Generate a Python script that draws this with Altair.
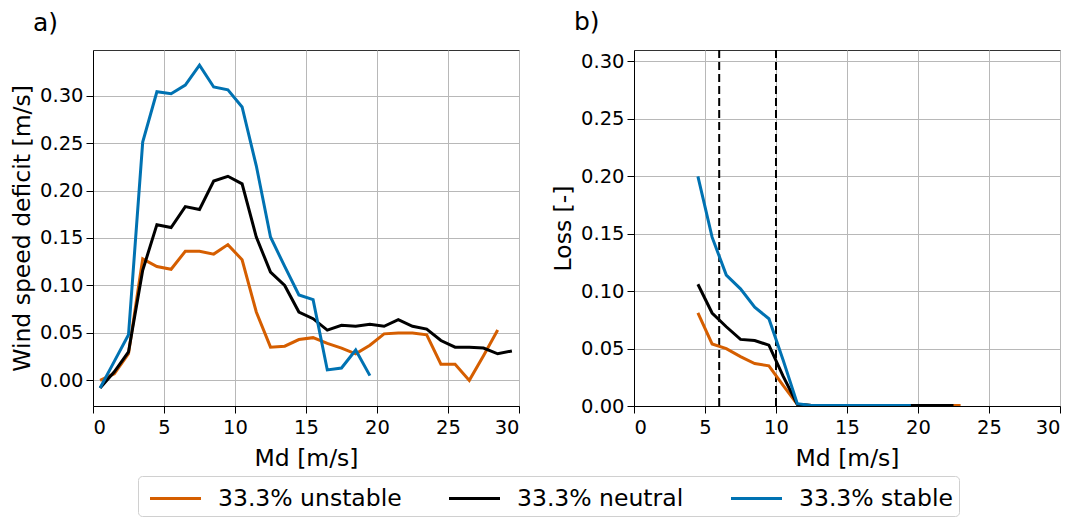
import altair as alt
import pandas as pd

# ---------------- data ----------------
labels = ["33.3% unstable", "33.3% neutral", "33.3% stable"]
colors = ["#D55E00", "#000000", "#0072B2"]

# panel a) wind speed deficit
x_a = [0.5, 1.5, 2.5, 3.5, 4.5, 5.5, 6.5, 7.5, 8.5, 9.5,
       10.5, 11.5, 12.5, 13.5, 14.5, 15.5, 16.5, 17.5, 18.5, 19.5,
       20.5, 21.5, 22.5, 23.5, 24.5, 25.5, 26.5, 27.5, 28.5, 29.5]
unstable_a = [0.000, 0.007, 0.028, 0.128, 0.120, 0.117, 0.136, 0.136, 0.133, 0.143,
              0.127, 0.072, 0.035, 0.036, 0.043, 0.045, 0.039, 0.034, 0.028, 0.037,
              0.049, 0.050, 0.050, 0.048, 0.017, 0.017, 0.000, 0.026, 0.053]
neutral_a = [-0.008, 0.009, 0.030, 0.116, 0.164, 0.161, 0.183, 0.180, 0.210, 0.215,
             0.207, 0.151, 0.114, 0.100, 0.072, 0.065, 0.053, 0.058, 0.057, 0.059,
             0.057, 0.064, 0.057, 0.054, 0.042, 0.035, 0.035, 0.034, 0.028, 0.031]
stable_a = [-0.008, 0.020, 0.048, 0.251, 0.304, 0.302, 0.311, 0.332, 0.309, 0.306,
            0.288, 0.226, 0.151, 0.120, 0.090, 0.085, 0.011, 0.013, 0.032, 0.005]

# panel b) loss
x_b = [4.5, 5.5, 6.5, 7.5, 8.5, 9.5, 10.5, 11.5, 12.5, 13.5,
       14.5, 15.5, 16.5, 17.5, 18.5, 19.5, 20.5, 21.5, 22.5, 23.0]
unstable_b = [0.081, 0.054, 0.050, 0.043, 0.037, 0.035, 0.018, 0.0015, 0.0005, 0.0005,
              0.0005, 0.0005, 0.0005, 0.0005, 0.0005, 0.0005, 0.0005, 0.0005, 0.0005, 0.0005]
neutral_b = [0.106, 0.081, 0.069, 0.058, 0.057, 0.053, 0.026, 0.0015, 0.0005, 0.0005,
             0.0005, 0.0005, 0.0005, 0.0005, 0.0005, 0.0005, 0.0005, 0.0005, 0.0005]
stable_b = [0.200, 0.147, 0.114, 0.102, 0.086, 0.076, 0.040, 0.002, 0.0005, 0.0005,
            0.0005, 0.0005, 0.0005, 0.0005, 0.0005, 0.0005]
vlines_b = [6, 10]

x_ticks = [0, 5, 10, 15, 20, 25, 30]
y_ticks = [0.0, 0.05, 0.10, 0.15, 0.20, 0.25, 0.30]

FONT = "DejaVu Sans"
color_scale = alt.Scale(domain=labels, range=colors)


def frame(xs, ys, name):
    n = len(ys)
    return pd.DataFrame({"x": xs[:n], "y": ys, "series": [name] * n})


def panel(series_data, ytitle, ydomain, title, rules=None):
    layers = []
    for df in series_data:
        layers.append(
            alt.Chart(df).mark_line(strokeWidth=3, clip=True).encode(
                x=alt.X("x:Q", scale=alt.Scale(domain=[0, 30], nice=False),
                        axis=alt.Axis(values=x_ticks, format="d"),
                        title="Md [m/s]"),
                y=alt.Y("y:Q", scale=alt.Scale(domain=ydomain, nice=False, zero=False),
                        axis=alt.Axis(values=y_ticks, format=".2f"),
                        title=ytitle),
                color=alt.Color("series:N", scale=color_scale,
                                legend=alt.Legend(title=None)),
            )
        )
    if rules is not None:
        layers.insert(0, alt.Chart(pd.DataFrame({"v": rules})).mark_rule(
            color="black", strokeWidth=2, strokeDash=[8, 4]).encode(x="v:Q"))
    return alt.layer(*layers).properties(
        width=426, height=356,
        title=alt.TitleParams(title, anchor="start", frame="group", dx=-60,
                              fontSize=25, font=FONT, fontWeight="normal",
                              color="black", offset=14),
    )


left = panel([frame(x_a, unstable_a, labels[0]),
              frame(x_a, neutral_a, labels[1]),
              frame(x_a, stable_a, labels[2])],
             "Wind speed deficit [m/s]", [-0.027, 0.348], "a)")

right = panel([frame(x_b, unstable_b, labels[0]),
               frame(x_b, neutral_b, labels[1]),
               frame(x_b, stable_b, labels[2])],
              "Loss [-]", [0, 0.31], "b)", rules=vlines_b)

chart = alt.hconcat(left, right, spacing=31).resolve_scale(color="shared").properties(
    padding={"left": 2, "top": 1, "right": 5, "bottom": 0}
).configure_view(
    stroke="#333333", strokeWidth=1
).configure_axis(
    labelFont=FONT, titleFont=FONT, labelFontSize=19.5, titleFontSize=23.5,
    titleFontWeight="normal", labelColor="black", titleColor="black",
    tickColor="black", domainColor="black", tickSize=7,
    gridColor="#b8b8b8", gridWidth=1,
).configure_axisX(
    labelPadding=5.5, titlePadding=9,
).configure_axisY(
    labelPadding=3, titlePadding=5,
).configure_legend(
    orient="none", legendX=45, legendY=426, direction="horizontal",
    symbolType="M-0.7,0H2.7", symbolSize=900, symbolStrokeWidth=3,
    labelFont=FONT, labelFontSize=23.5, labelColor="black", labelOffset=41,
    columnPadding=41, strokeColor="#d0d0d0", padding=6, cornerRadius=4,
    fillColor="white", labelLimit=400,
)

chart.save("out.html", embed_options={"renderer": "svg", "actions": False})
